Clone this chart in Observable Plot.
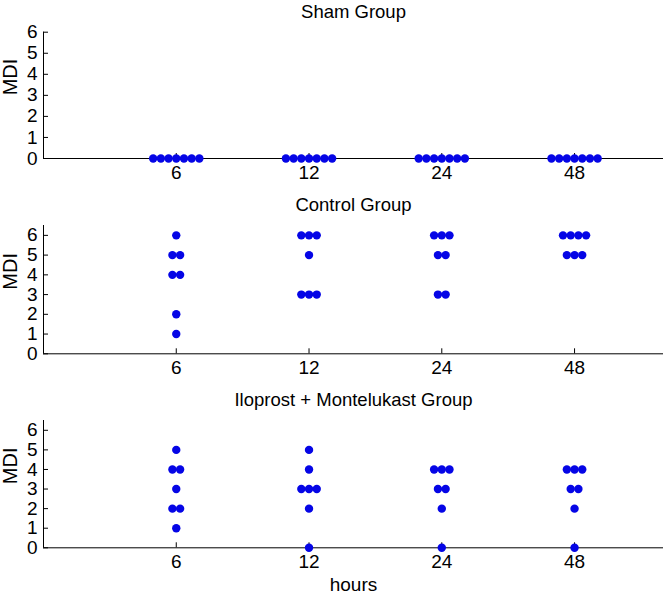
<!DOCTYPE html>
<html>
<head>
<meta charset="utf-8">
<script src="https://cdn.jsdelivr.net/npm/d3@7"></script>
<script src="https://cdn.jsdelivr.net/npm/@observablehq/plot@0.6"></script>
<style>
  html, body { margin: 0; padding: 0; background: #fff; }
  #chart svg { display: block; }
</style>
</head>
<body>
<div id="chart"></div>
<script>
// ---- data ----
const hours = ["6", "12", "24", "48"];
const yTicks = [0, 1, 2, 3, 4, 5, 6];
const groupTitles = ["Sham Group", "Control Group", "Iloprost + Montelukast Group"];
const shamMDI = [
  [0, 0, 0, 0, 0, 0, 0],
  [0, 0, 0, 0, 0, 0, 0],
  [0, 0, 0, 0, 0, 0, 0],
  [0, 0, 0, 0, 0, 0, 0]
];
const controlMDI = [
  [6, 5, 5, 4, 4, 2, 1],
  [6, 6, 6, 5, 3, 3, 3],
  [6, 6, 6, 5, 5, 3, 3],
  [6, 6, 6, 6, 5, 5, 5]
];
const iloMDI = [
  [5, 4, 4, 3, 2, 2, 1],
  [5, 4, 3, 3, 3, 2, 0],
  [4, 4, 4, 3, 3, 2, 0],
  [4, 4, 4, 3, 3, 2, 0]
];
const xLabel = "hours";
const yLabel = "MDI";

// ---- layout ----
const W = 667, ML = 43, MR = 4;
const xMax = 4.67;
const pxPerUnit = (W - ML - MR) / xMax;
const spacingPx = 7.7;
const dotColor = "#0505e6";

function toRows(groups) {
  const rows = [];
  groups.forEach((vals, h) => {
    const counts = d3.rollup(vals, v => v.length, d => d);
    for (const [v, n] of counts) {
      for (let k = 0; k < n; k++) {
        const off = (k - (n - 1) / 2) * spacingPx / pxPerUnit;
        rows.push({x: h + 1 + off, y: v});
      }
    }
  });
  return rows;
}

function panel({title, groups, yMax, height, marginTop, marginBottom, showX}) {
  const frameW = W - ML - MR;
  const frameH = height - marginTop - marginBottom;
  const marks = [
    Plot.ruleX([0], {stroke: "black"}),
    Plot.ruleY([0], {stroke: "black"}),
    Plot.tickY(yTicks, {y: d => d, stroke: "black", insetRight: frameW - 5}),
    Plot.tickX(hours.map((_, i) => i + 1), {x: d => d, stroke: "black", insetTop: frameH - 5}),
    Plot.axisY(yTicks, {tickSize: 0, tickPadding: 6, label: null, fill: "black", fontSize: 19}),
    Plot.axisX(hours.map((_, i) => i + 1), {tickSize: 0, tickPadding: 7, tickFormat: i => hours[i - 1], label: null, fill: "black", fontSize: 19}),
    Plot.text([yLabel], {frameAnchor: "left", rotate: -90, dx: -33, lineAnchor: "middle", fill: "black", fontSize: 20}),
    Plot.text([title], {frameAnchor: "top", dy: -20, lineAnchor: "middle", fill: "black", fontSize: 18.5}),
    Plot.dot(toRows(groups), {x: "x", y: "y", r: 4.2, fill: dotColor, stroke: null})
  ];
  if (showX) {
    marks.push(Plot.text([xLabel], {frameAnchor: "bottom", dy: 36.7, lineAnchor: "middle", fill: "black", fontSize: 19}));
  }
  return Plot.plot({
    width: W,
    height,
    marginLeft: ML,
    marginRight: MR,
    marginTop,
    marginBottom,
    x: {domain: [0, xMax], axis: null},
    y: {domain: [0, yMax], axis: null},
    style: {fontFamily: "'Liberation Sans', Arial, sans-serif", fontSize: "18px", background: "white", color: "black"},
    marks
  });
}

const chart = document.getElementById("chart");
chart.append(panel({title: groupTitles[0], groups: shamMDI, yMax: 6, height: 190, marginTop: 31.7, marginBottom: 32, showX: false}));
chart.append(panel({title: groupTitles[1], groups: controlMDI, yMax: 6.5, height: 195, marginTop: 35, marginBottom: 31.7, showX: false}));
chart.append(panel({title: groupTitles[2], groups: iloMDI, yMax: 6.5, height: 209, marginTop: 35, marginBottom: 46.7, showX: true}));
</script>
</body>
</html>
